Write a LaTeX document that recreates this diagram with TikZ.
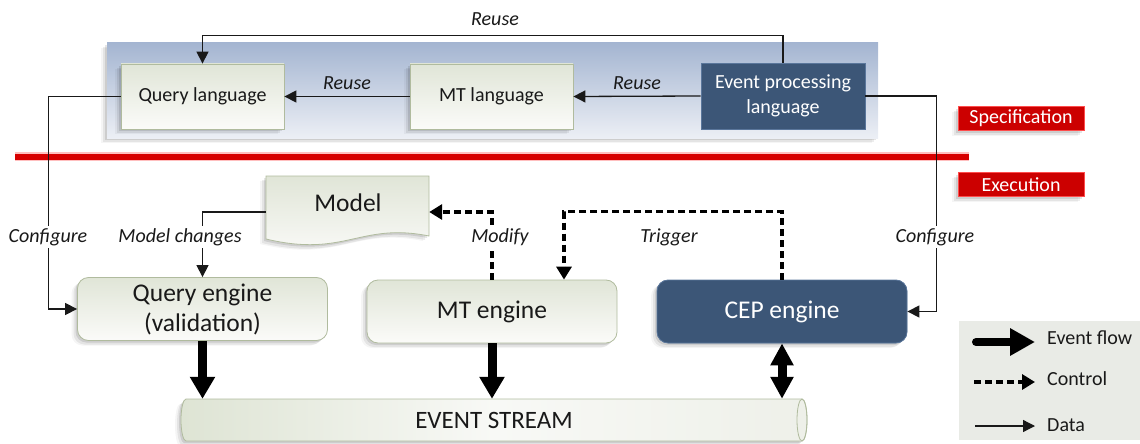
\documentclass[tikz,border=0pt]{standalone}
\usepackage{fontspec}
\setmainfont{Carlito}
\usetikzlibrary{arrows.meta,shadows,calc}
\definecolor{panelTop}{RGB}{164,181,209}
\definecolor{panelMid}{RGB}{190,202,223}
\definecolor{panelBot}{RGB}{236,239,245}
\definecolor{boxTop}{RGB}{224,229,215}
\definecolor{boxBot}{RGB}{251,251,249}
\definecolor{boxLine}{RGB}{176,187,158}
\definecolor{darkBlue}{RGB}{60,86,119}
\definecolor{darkLine}{RGB}{90,118,155}
\definecolor{specRed}{RGB}{204,0,0}
\definecolor{lineRed}{RGB}{215,0,0}
\definecolor{legendBg}{RGB}{233,235,230}
\definecolor{txt}{RGB}{25,25,25}
\tikzset{
  softshadow/.style={
    general shadow={shadow xshift=-2pt, shadow yshift=-2pt, fill=black, opacity=0.10},
    general shadow={shadow xshift=-4pt, shadow yshift=-4pt, fill=black, opacity=0.07},
    general shadow={shadow xshift=-6pt, shadow yshift=-5pt, fill=black, opacity=0.04}},
  langbox/.style={draw=boxLine, line width=0.8pt, top color=boxTop, bottom color=boxBot,
    text=txt, font=\fontsize{20}{25}\selectfont, align=center, inner sep=0pt,
    minimum width=163pt, minimum height=65pt, softshadow},
  darklang/.style={draw=darkLine, line width=0.8pt, fill=darkBlue, text=white,
    font=\fontsize{20}{25}\selectfont, align=center, inner sep=0pt,
    minimum width=164pt, minimum height=66pt},
  engine/.style={draw=boxLine, line width=0.8pt, top color=boxTop, bottom color=boxBot,
    rounded corners=11pt, text=txt, font=\fontsize{25.5}{30}\selectfont, align=center,
    inner sep=0pt, minimum width=250pt, minimum height=63pt, softshadow},
  darkengine/.style={engine, draw=darkLine, fill=darkBlue, top color=darkBlue, bottom color=darkBlue, text=white},
  lbl/.style={font=\fontsize{20}{24}\selectfont\itshape, text=txt, inner sep=2pt},
  lblw/.style={lbl, fill=white},
  data/.style={draw=txt, line width=1.3pt, -{Triangle[length=12pt,width=12pt]}},
  control/.style={draw=black, line width=3.6pt, dash pattern=on 7pt off 4pt,
    -{Triangle[length=13pt,width=15pt]}},
  event/.style={draw=black, line width=9pt, -{Triangle[length=22pt,width=24pt]}},
  redlabel/.style={fill=specRed, draw=red!70!white, line width=0.5pt, text=white,
    font=\fontsize{20}{24}\selectfont, minimum width=126pt, minimum height=24pt,
    inner sep=0pt, softshadow},
  legtext/.style={font=\fontsize{20}{24}\selectfont, text=txt, anchor=west, inner sep=0pt}
}
\begin{document}
\begin{tikzpicture}[x=1pt,y=-1pt]
\useasboundingbox (0,0) rectangle (1140,444);
% specification panel
\path[softshadow, top color=panelTop, middle color=panelMid, bottom color=panelBot] (107,43) rectangle (878,138);
% language boxes
\node[langbox] (ql) at (202.5,96.5) {Query language};
\node[langbox] (mtl) at (491.5,96.5) {MT language};
\node[darklang] (epl) at (783,96) {Event processing\\language};
% reuse connectors
\draw[data] (mtl.west) -- (ql.east);
\draw[data] (epl.west) -- (mtl.east);
\draw[data] (epl.north) -- ++(0,-27) -| (ql.north);
\node[lbl] (reuse1) at (347,83) {Reuse};
\node[lbl] (reuse2) at (637,83) {Reuse};
\node[lbl] (reuse3) at (495,19) {Reuse};
% red separator
\draw[line width=9pt, red!50!white, opacity=0.5] (15,156.5) -- (969,156.5);
\draw[line width=6pt, lineRed] (15,156.5) -- (969,156.5);
\node[redlabel] (spec) at (1021,118.5) {Specification};
\node[redlabel] (exec) at (1021,184.5) {Execution};
% model document
\node[minimum width=163pt, minimum height=72pt, inner sep=0pt] (model) at (347.5,212) {};
\path[softshadow, draw=boxLine, line width=0.8pt, top color=boxTop, bottom color=boxBot]
  (266,176) -- (429,176) -- (429,236) .. controls (360,222) and (345,258) .. (266,239) -- cycle;
\node[font=\fontsize{25.5}{30}\selectfont, text=txt] (modeltext) at (348,203) {Model};
% engines
\node[engine] (qe) at (202.5,309) {Query engine\\(validation)};
\node[engine] (mte) at (492,311.5) {MT engine};
\node[darkengine] (cep) at (782,311.5) {CEP engine};
% event stream
\path[softshadow, draw=boxLine, line width=0.8pt, left color={rgb,255:red,222;green,228;blue,212},
  right color={rgb,255:red,238;green,240;blue,233}, middle color={rgb,255:red,248;green,249;blue,246}]
  (186,399) -- (802,399) arc[start angle=90, end angle=-90, x radius=5pt, y radius=21pt]
  -- (186,441) arc[start angle=270, end angle=90, x radius=5pt, y radius=21pt] -- cycle;
\draw[boxLine, line width=0.8pt] (802,420) ellipse[x radius=5pt, y radius=21pt];
\node[minimum width=626pt, minimum height=42pt, inner sep=0pt, font=\fontsize{25}{30}\selectfont, text=txt] (stream) at (494,420) {EVENT STREAM};
% configure connectors
\draw[data] (ql.west) -- ++(-72,0) |- (qe.west);
\draw[data] (epl.east) -- ++(71,0) |- (cep.east);
\node[lblw] (conf1) at (48,237) {Configure};
\node[lblw] (conf2) at (935,237) {Configure};
% model changes
\draw[data] (model.west) -| (qe.north);
\node[lblw] (mch) at (180,237) {Model changes};
% control
\draw[control] (mte.north) |- (model.east);
\draw[control] (cep.north) -- ++(0,-68) -| ([xshift=72pt]mte.north);
\node[lblw] (modify) at (500,237) {Modify};
\node[lbl] (trigger) at (669,237) {Trigger};
% event flow
\draw[event] (qe.south) -- (qe.south |- stream.north);
\draw[event] (mte.south) -- (mte.south |- stream.north);
\draw[event, {Triangle[length=22pt,width=22pt]}-{Triangle[length=22pt,width=22pt]}] (cep.south) -- (cep.south |- stream.north);
% legend
\fill[legendBg] (959,321) rectangle (1140,440);
\coordinate (la1) at (976,342);
\coordinate (lb1) at (1035,342);
\coordinate (la2) at (974,382);
\coordinate (lb2) at (1035,382);
\coordinate (la3) at (975,426);
\coordinate (lb3) at (1035,426);
\draw[event, line width=8pt, line cap=round, -{Triangle[length=25pt,width=26pt]}] (la1) -- (lb1);
\draw[control] (la2) -- (lb2);
\draw[data] (la3) -- (lb3);
\node[legtext] (lt1) at (1047,338) {Event flow};
\node[legtext] (lt2) at (1047,379) {Control};
\node[legtext] (lt3) at (1047,425) {Data};
\end{tikzpicture}
\end{document}
